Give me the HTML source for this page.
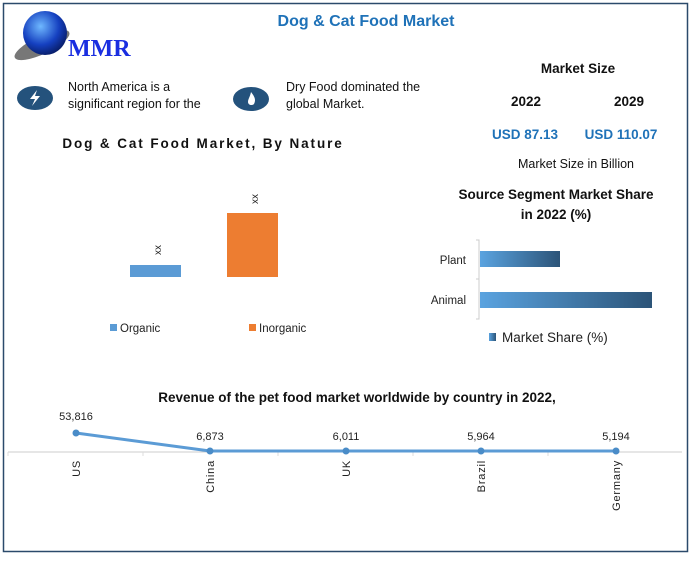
<!DOCTYPE html>
<html><head><meta charset="utf-8"><style>
body{margin:0;background:#fff;}
svg text{font-family:"Liberation Sans",sans-serif;}
</style></head><body>
<svg width="691" height="556" viewBox="0 0 691 556" xmlns="http://www.w3.org/2000/svg">
<defs>
<linearGradient id="g" x1="0" x2="1" y1="0" y2="0"><stop offset="0" stop-color="#5aa3e0"/><stop offset="1" stop-color="#2c5478"/></linearGradient>
<radialGradient id="globe" cx="0.4" cy="0.35" r="0.7"><stop offset="0" stop-color="#6fb8ff"/><stop offset="0.6" stop-color="#1540c0"/><stop offset="1" stop-color="#071a60"/></radialGradient>
</defs>
<rect x="3.5" y="3.5" width="684" height="548" fill="#fff" stroke="#2b4a6b" stroke-width="1.5"/>
<!-- logo -->
<ellipse cx="42" cy="45" rx="30" ry="9" fill="#777" transform="rotate(-25 42 45)"/>
<circle cx="45" cy="33" r="22" fill="url(#globe)"/>
<text x="68" y="56" font-weight="bold" font-size="24" fill="#1a2ee0" style="font-family:'Liberation Serif',serif">MMR</text>
<text x="366" y="26" text-anchor="middle" font-weight="bold" font-size="16" fill="#1f72b8">Dog &amp; Cat Food Market</text>
<!-- icons -->
<ellipse cx="35" cy="98" rx="18" ry="12" fill="#24527c"/>
<path d="M37 90 L30 99 L35 99 L32 106 L40 96 L35 96 Z" fill="#fff"/>
<ellipse cx="251" cy="99" rx="18" ry="12" fill="#24527c"/>
<path d="M251 92 C255 97 256 100 254 104 C252 106 248 105 248 102 C248 99 250 97 251 92 Z" fill="#fff"/>
<text x="68" y="91" font-size="12.5" fill="#111">North America is a</text>
<text x="68" y="108" font-size="12.5" fill="#111">significant region for the</text>
<text x="286" y="91" font-size="12.5" fill="#111">Dry Food dominated the</text>
<text x="286" y="108" font-size="12.5" fill="#111">global Market.</text>
<!-- market size -->
<text x="578" y="73" text-anchor="middle" font-weight="bold" font-size="13.5" fill="#111">Market Size</text>
<text x="526" y="106" text-anchor="middle" font-weight="bold" font-size="13.5" fill="#111">2022</text>
<text x="629" y="106" text-anchor="middle" font-weight="bold" font-size="13.5" fill="#111">2029</text>
<text x="525" y="139" text-anchor="middle" font-weight="bold" font-size="13.5" fill="#1f72b8">USD 87.13</text>
<text x="621" y="139" text-anchor="middle" font-weight="bold" font-size="13.5" fill="#1f72b8">USD 110.07</text>
<text x="576" y="168" text-anchor="middle" font-size="12.5" fill="#111">Market Size in Billion</text>
<!-- by nature -->
<text x="203" y="148" text-anchor="middle" font-weight="bold" font-size="13.5" letter-spacing="1.9" fill="#111">Dog &amp; Cat Food Market, By Nature</text>
<rect x="130" y="265" width="51" height="12" fill="#5b9bd5"/>
<rect x="227" y="213" width="51" height="64" fill="#ed7d31"/>
<text transform="translate(161 250) rotate(-90)" text-anchor="middle" font-size="10" fill="#222">xx</text>
<text transform="translate(258 199) rotate(-90)" text-anchor="middle" font-size="10" fill="#222">xx</text>
<rect x="110" y="324" width="7" height="7" fill="#5b9bd5"/>
<text x="120" y="332" font-size="11.5" fill="#222">Organic</text>
<rect x="249" y="324" width="7" height="7" fill="#ed7d31"/>
<text x="259" y="332" font-size="11.5" fill="#222">Inorganic</text>
<!-- source segment -->
<text x="556" y="199" text-anchor="middle" font-weight="bold" font-size="13.5" fill="#111">Source Segment Market Share</text>
<text x="556" y="219" text-anchor="middle" font-weight="bold" font-size="13.5" fill="#111">in 2022 (%)</text>
<path d="M476 240 H479 V319 H476 M476 279 H479" stroke="#ccc" fill="none"/>
<rect x="480" y="251" width="80" height="16" fill="url(#g)"/>
<rect x="480" y="292" width="172" height="16" fill="url(#g)"/>
<text x="466" y="264" text-anchor="end" font-size="11.5" fill="#222">Plant</text>
<text x="466" y="304" text-anchor="end" font-size="11.5" fill="#222">Animal</text>
<rect x="489" y="333" width="7" height="8" fill="url(#g)"/>
<text x="502" y="342" font-size="13.5" fill="#222">Market Share (%)</text>
<!-- line chart -->
<text x="357" y="402" text-anchor="middle" font-weight="bold" font-size="13.5" fill="#111">Revenue of the pet food market worldwide by country in 2022,</text>
<line x1="8" y1="452" x2="682" y2="452" stroke="#ccc"/>
<g stroke="#ddd"><line x1="143" y1="452" x2="143" y2="456"/><line x1="278" y1="452" x2="278" y2="456"/><line x1="413" y1="452" x2="413" y2="456"/><line x1="548" y1="452" x2="548" y2="456"/><line x1="8" y1="452" x2="8" y2="456"/></g>
<polyline points="76,433 210,451 346,451 481,451 616,451" fill="none" stroke="#5b9bd5" stroke-width="3"/>
<g fill="#4a8cc8"><circle cx="76" cy="433" r="3.5"/><circle cx="210" cy="451" r="3.5"/><circle cx="346" cy="451" r="3.5"/><circle cx="481" cy="451" r="3.5"/><circle cx="616" cy="451" r="3.5"/></g>
<g font-size="11" fill="#222" text-anchor="middle">
<text x="76" y="420">53,816</text><text x="210" y="440">6,873</text><text x="346" y="440">6,011</text><text x="481" y="440">5,964</text><text x="616" y="440">5,194</text>
</g>
<g font-size="11" fill="#222" text-anchor="end" letter-spacing="0.8">
<text transform="translate(80 460) rotate(-90)">US</text>
<text transform="translate(214 460) rotate(-90)">China</text>
<text transform="translate(350 460) rotate(-90)">UK</text>
<text transform="translate(485 460) rotate(-90)">Brazil</text>
<text transform="translate(620 460) rotate(-90)">Germany</text>
</g>
</svg>
</body></html>
